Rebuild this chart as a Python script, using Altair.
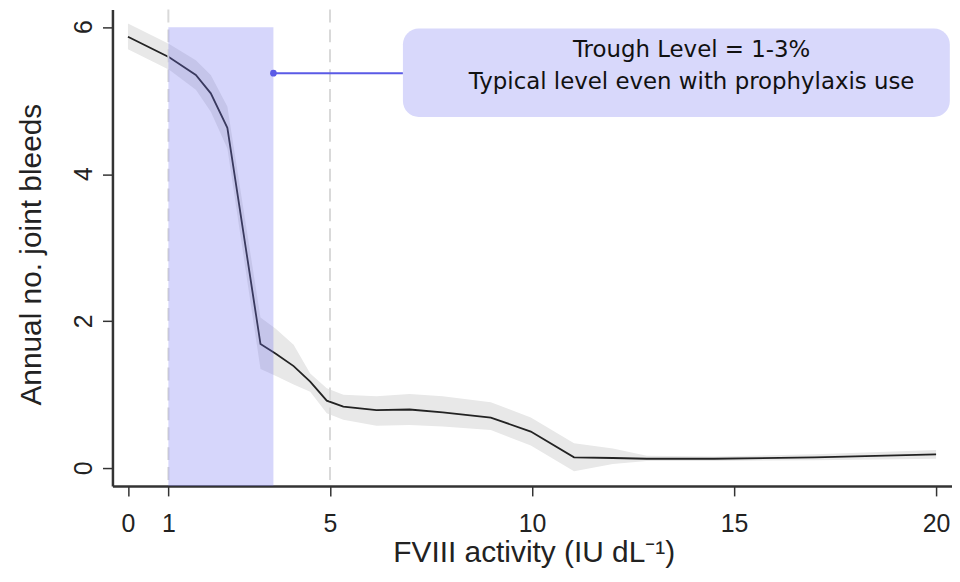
import altair as alt
import pandas as pd

# ---- data ----
fviii = [0, 1.02, 1.68, 2.05, 2.46, 3.28, 3.65, 4.10, 4.51, 4.92, 5.33, 6.15, 6.97,
         7.79, 8.98, 9.97, 11.04, 12.0, 12.84, 14.5, 17, 20]
bleeds = [5.87, 5.59, 5.35, 5.10, 4.63, 1.69, 1.56, 1.39, 1.18, 0.92, 0.84, 0.79, 0.80,
          0.76, 0.69, 0.50, 0.15, 0.14, 0.13, 0.13, 0.15, 0.19]
upper = [6.05, 5.77, 5.55, 5.35, 4.92, 2.05, 1.90, 1.68, 1.29, 1.09, 1.00, 0.98, 1.01,
         0.98, 0.90, 0.69, 0.34, 0.27, 0.17, 0.16, 0.19, 0.25]
lower = [5.70, 5.42, 5.15, 4.85, 4.35, 1.35, 1.26, 1.14, 1.04, 0.75, 0.66, 0.58, 0.59,
         0.57, 0.52, 0.31, -0.04, 0.06, 0.10, 0.10, 0.11, 0.13]

ref_lines = [1, 5]
trough_range = [1, 3.6]
trough_top = 6.0
x_ticks = [0, 1, 5, 10, 15, 20]
y_ticks = [0, 2, 4, 6]
y_tick_labels = ["0", "2", "4", "6"]
x_domain = [-0.384, 20.394]
y_domain = [-0.24, 6.24]

note_lines = ["Trough Level = 1-3%", "Typical level even with prophylaxis use"]
note_y = [5.59, 5.158]
note_x = 13.95
box_x = [6.805, 20.34]
box_y = [4.779, 5.983]
pointer_x = 3.6
pointer_y = 5.374

curve = pd.DataFrame({"x": fviii, "y": bleeds, "lo": lower, "hi": upper})
refs = pd.DataFrame({"x": ref_lines})
trough = pd.DataFrame({"x": [trough_range[0]], "x2": [trough_range[1]],
                       "y": [y_domain[0]], "y2": [trough_top]})
box = pd.DataFrame({"x": [box_x[0]], "x2": [box_x[1]], "y": [box_y[0]], "y2": [box_y[1]]})
pointer_line = pd.DataFrame({"x": [pointer_x], "x2": [box_x[0]], "y": [pointer_y]})
pointer_pt = pd.DataFrame({"x": [pointer_x], "y": [pointer_y]})
notes = pd.DataFrame({"x": [note_x, note_x], "y": note_y, "t": note_lines})
ylab = pd.DataFrame({"y": y_ticks, "t": y_tick_labels})

FONT = "Liberation Sans"
xs = alt.Scale(domain=x_domain, nice=False, zero=False)
ys = alt.Scale(domain=y_domain, nice=False, zero=False)

x_axis = alt.Axis(values=x_ticks, grid=False, title="FVIII activity (IU dL\u207b\u00b9)",
                  labelFont=FONT, labelFontSize=25, labelColor="#222", labelPadding=16,
                  labelBaseline="top", labelFlush=False, labelOverlap=False,
                  tickSize=10, tickWidth=1.5, tickColor="#333",
                  domainColor="#333", domainWidth=2.5,
                  titleFont=FONT, titleFontSize=30, titleFontWeight="normal", titleColor="#222",
                  titleX=423.5, titleY=76, titleBaseline="alphabetic", titleAlign="center")
y_axis = alt.Axis(values=y_ticks, grid=False, title="Annual no. joint bleeds",
                  labels=False,
                  tickSize=10, tickWidth=1.5, tickColor="#333",
                  domainColor="#333", domainWidth=2.5,
                  titleFont=FONT, titleFontSize=30, titleFontWeight="normal", titleColor="#222",
                  titleAngle=270, titleX=-72, titleY=246, titleBaseline="alphabetic",
                  titleAlign="center")

X = alt.X("x:Q", scale=xs, axis=x_axis)
Y = alt.Y("y:Q", scale=ys, axis=y_axis)

band = alt.Chart(curve).mark_area(color="#e8e8e8", opacity=1).encode(
    x=X, y=alt.Y("lo:Q", scale=ys, axis=y_axis), y2="hi:Q")
line = alt.Chart(curve).mark_line(color="#222", strokeWidth=1.8).encode(x=X, y=Y)
rules = alt.Chart(refs).mark_rule(color="#d9d9d9", strokeWidth=2, strokeDash=[13, 7]).encode(x=X)
rect = alt.Chart(trough).mark_rect(color="#7070f0", opacity=0.29).encode(
    x=X, x2="x2:Q", y=Y, y2="y2:Q")
boxm = alt.Chart(box).mark_rect(color="#d8d8fb", cornerRadius=16).encode(
    x=X, x2="x2:Q", y=Y, y2="y2:Q")
pline = alt.Chart(pointer_line).mark_rule(color="#5a5ae6", strokeWidth=2).encode(
    x=X, x2="x2:Q", y=Y)
ppt = alt.Chart(pointer_pt).mark_point(color="#5a5ae6", filled=True, opacity=1, size=45).encode(
    x=X, y=Y)
text = alt.Chart(notes).mark_text(font="DejaVu Sans", fontSize=23, color="#111",
                                  align="center", baseline="alphabetic").encode(
    x=X, y=Y, text="t:N")
ylabels = alt.Chart(ylab).mark_text(font=FONT, fontSize=25, color="#222", angle=270,
                                    align="center", baseline="alphabetic").encode(
    x=alt.value(-21), y=Y, text="t:N")

chart = alt.layer(band, line, rules, rect, pline, ppt, boxm, text, ylabels).properties(
    width=844, height=479,
    autosize=alt.AutoSizeParams(type="none"),
    padding={"left": 105, "top": 0, "right": 0, "bottom": 85},
    background="white",
).configure_view(stroke=None)

chart.save("out.html", embed_options={"renderer": "svg", "actions": False})
